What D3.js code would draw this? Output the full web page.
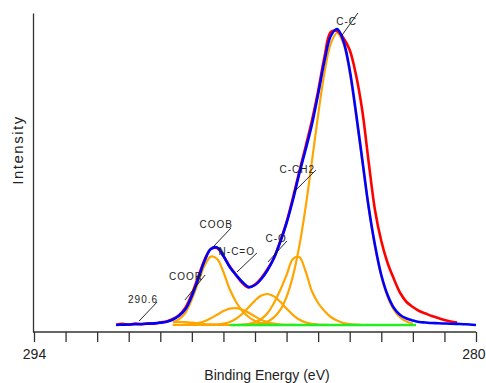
<!DOCTYPE html>
<html>
<head>
<meta charset="utf-8">
<script src="https://cdn.jsdelivr.net/npm/d3@7"></script>
<style>
body { margin:0; background:#fff; }
svg { font-family: "Liberation Sans", Arial, sans-serif; }
</style>
</head>
<body>
<svg id="chart"></svg>
<script>
// energy grid of the measured spectrum and the fit envelope (eV)
var fitEnergy = [291.4, 291.2, 291.0, 290.8, 290.6, 290.4, 290.2, 290.0, 289.8, 289.6, 289.4, 289.2, 289.0, 288.8, 288.6, 288.4, 288.2, 288.0, 287.8, 287.6, 287.4, 287.2, 287.0, 286.8, 286.6, 286.4, 286.2, 286.0, 285.8, 285.6, 285.4, 285.2, 285.0, 284.8, 284.6, 284.4, 284.2, 284.0, 283.8, 283.6, 283.4, 283.2, 283.0, 282.8, 282.6, 282.4, 282.2, 282.0, 281.8, 281.6, 281.4, 281.2, 281.0, 280.8, 280.6, 280.4, 280.2, 280.0];

// measured spectrum (red), stops at 280.6
var measured = [0.3, 1.2, 0.3, 1.4, 0.6, 1.8, 1.3, 2.6, 3.6, 6, 10, 17.5, 31, 48, 65, 76, 77, 69, 58.5, 50, 42, 37.5, 40.5, 47, 56, 67, 84, 103, 127, 153, 178, 204, 234, 268, 293, 294, 287, 275, 250, 214, 163, 115, 84, 62, 46, 32, 23, 18, 14, 11.5, 9, 7, 5, 3.5, 2.5];

// fitted envelope (blue)
var envelope = [0, 0.3, 0.5, 0.8, 1.0, 1.3, 1.6, 2.2, 3.2, 5.5, 9.5, 16, 29, 46, 64, 76, 77.5, 69, 58, 50, 43, 38, 40, 46, 55, 67, 83, 102, 125, 151, 175, 200, 231, 264, 289, 296, 284, 255, 212, 165, 118, 80, 50, 30, 17, 10, 6.5, 4.5, 3, 2.5, 2, 1.8, 1.5, 1.3, 1.1, 0.8, 0.5, 0];

// energy grid of the fitted components
var compEnergy = [289.6, 289.4, 289.2, 289.0, 288.8, 288.6, 288.4, 288.2, 288.0, 287.8, 287.6, 287.4, 287.2, 287.0, 286.8, 286.6, 286.4, 286.2, 286.0, 285.8, 285.6, 285.4, 285.2, 285.0, 284.8, 284.6, 284.4, 284.2, 284.0, 283.8, 283.6, 283.4, 283.2, 283.0, 282.8, 282.6, 282.4, 282.2, 282.0];

// component peaks (orange)
var peakShake = [2.8, 3.0, 2.8, 2.3, 1.7, 1.0, 0.6, 0.3, 0.1, 0, 0, 0, 0, 0, 0, 0, 0, 0, 0, 0, 0, 0, 0, 0, 0, 0, 0, 0, 0, 0, 0, 0, 0, 0, 0, 0, 0, 0, 0];
var peakCOOR = [2.5, 6, 12.5, 25.7, 42.7, 59.2, 68.4, 66, 53, 35.7, 23, 14, 8, 4, 2, 1, 0.5, 0.2, 0, 0, 0, 0, 0, 0, 0, 0, 0, 0, 0, 0, 0, 0, 0, 0, 0, 0, 0, 0, 0];
var peakNCO = [0, 0.1, 0.3, 0.8, 1.9, 3.8, 6.7, 10.3, 13.9, 16.4, 16.9, 15.3, 12.2, 8.5, 5.2, 2.7, 1.3, 0.5, 0.2, 0.1, 0, 0, 0, 0, 0, 0, 0, 0, 0, 0, 0, 0, 0, 0, 0, 0, 0, 0, 0];
var peakCO = [0, 0, 0, 0, 0, 0, 0.2, 0.5, 1.3, 3.1, 6.3, 11.3, 17.8, 24.4, 29.4, 31.0, 28.6, 23.2, 16.4, 10.2, 5.5, 2.6, 1.1, 0.4, 0.1, 0, 0, 0, 0, 0, 0, 0, 0, 0, 0, 0, 0, 0, 0];
var peakCCH2 = [0, 0, 0, 0, 0, 0, 0, 0, 0, 0, 0, 0.4, 1.2, 2.8, 6, 12, 22, 35, 50, 66, 68, 54, 34, 22, 14, 8, 4.5, 2, 0.8, 0.3, 0, 0, 0, 0, 0, 0, 0, 0, 0];
var peakCC = [0, 0, 0, 0, 0, 0, 0, 0, 0, 0, 0, 0, 0, 0.6, 1.5, 3.5, 7.6, 15.1, 28.2, 48.8, 78.4, 117.2, 162.8, 210.2, 252.3, 281.5, 292, 281.5, 252.3, 210.2, 162.8, 117.2, 78.4, 48.8, 28.2, 15.1, 7.6, 3.5, 1.5];

// background line (green)
var baseEnergy = [287.8, 281.9];
var baseValues = [0, 0];

// axis ticks
var xTicks = [294, 293, 292, 291, 290, 289, 288, 287, 286, 285, 284, 283, 282, 281, 280];
var xTickLabels = [294, 280];

// peak annotations: text, text anchor (E, I), leader line from (E, I) to (E, I)
var labelText = ["C-C", "C-CH2", "C-O", "N-C=O", "COOB", "COOR", "290.6"];
var labelE = [283.77, 285.10, 285.99, 287.0, 287.70, 288.65, 290.07];
var labelI = [300, 152, 83, 70, 97, 45, 22];
var leaderE1 = [283.74, 285.07, 285.99, 286.94, 287.76, 288.58, 290.10];
var leaderI1 = [312, 155, 84, 72, 97, 50, 23];
var leaderE2 = [284.24, 285.80, 286.59, 287.57, 288.33, 289.22, 290.67];
var leaderI2 = [290, 132, 63, 53, 78, 25, 4];

var screen = {width:486, height:383};

var svg = d3.select("#chart")
    .attr("width", screen.width)
    .attr("height", screen.height);

var xScale = d3.scaleLinear()
    .domain([294, 280])
    .range([34, 476]);

var yScale = d3.scaleLinear()
    .domain([-7, 312])
    .range([332, 13]);

var line = d3.line()
    .x(function(d){ return xScale(d[0]); })
    .y(function(d){ return yScale(d[1]); })
    .curve(d3.curveCatmullRom.alpha(0.5));

var zip = function(xs, ys)
{
    return ys.map(function(v, i){ return [xs[i], v]; });
}

// axes
var xAxis = d3.axisBottom(xScale)
    .tickValues(xTicks)
    .tickSize(10)
    .tickSizeOuter(0)
    .tickPadding(7)
    .tickFormat(function(d){ return xTickLabels.indexOf(d) >= 0 ? d : ""; });

var gx = svg.append("g")
    .attr("transform", "translate(0,332)")
    .call(xAxis);
gx.select(".domain").attr("stroke", "#333").attr("stroke-width", 1.3)
    .attr("d", "M33,0H476");
gx.selectAll(".tick line").attr("stroke", "#333").attr("stroke-width", 1.3);
gx.selectAll(".tick text")
    .attr("fill", "#222")
    .attr("text-anchor", function(d){ return d == 280 ? "end" : "middle"; })
    .attr("dx", function(d){ return d == 280 ? 9 : 0; })
    .style("font-size", "14px")
    .style("font-family", "Liberation Sans, Arial, sans-serif");

var gy = svg.append("g")
    .attr("transform", "translate(33,0)")
    .call(d3.axisLeft(yScale).tickValues([]).tickSizeOuter(0));
gy.select(".domain").attr("stroke", "#333").attr("stroke-width", 1.3);

svg.append("text")
    .attr("x", 267)
    .attr("y", 380)
    .attr("text-anchor", "middle")
    .attr("fill", "#222")
    .style("font-size", "14px")
    .text("Binding Energy (eV)");

svg.append("text")
    .attr("transform", "translate(23,150) rotate(-90)")
    .attr("text-anchor", "middle")
    .attr("fill", "#222")
    .style("font-size", "15px")
    .style("letter-spacing", "1.5px")
    .text("Intensity");

// orange component peaks
var components = [peakShake, peakCOOR, peakNCO, peakCO, peakCCH2, peakCC];
svg.selectAll("path.comp")
    .data(components)
    .enter()
    .append("path")
    .attr("class", "comp")
    .attr("d", function(d){ return line(zip(compEnergy, d)); })
    .attr("fill", "none")
    .attr("stroke", "#ffa500")
    .attr("stroke-width", 2.2);

// green background
svg.append("path")
    .attr("d", line.curve(d3.curveLinear)(zip(baseEnergy, baseValues)))
    .attr("fill", "none")
    .attr("stroke", "#22ee22")
    .attr("stroke-width", 2.5);
line.curve(d3.curveCatmullRom.alpha(0.5));

// measured (red) and envelope (blue)
svg.append("path")
    .attr("d", line(zip(fitEnergy, measured)))
    .attr("fill", "none")
    .attr("stroke", "#ff0000")
    .attr("stroke-width", 2.6);

svg.append("path")
    .attr("d", line(zip(fitEnergy, envelope)))
    .attr("fill", "none")
    .attr("stroke", "#0000ff")
    .attr("stroke-width", 2.6);

// annotations
var labels = labelText.map(function(t, i){ return {text:t, i:i}; });

svg.selectAll("line.leader")
    .data(labels)
    .enter()
    .append("line")
    .attr("class", "leader")
    .attr("x1", function(d){ return xScale(leaderE1[d.i]); })
    .attr("y1", function(d){ return yScale(leaderI1[d.i]); })
    .attr("x2", function(d){ return xScale(leaderE2[d.i]); })
    .attr("y2", function(d){ return yScale(leaderI2[d.i]); })
    .attr("stroke", "#111")
    .attr("stroke-width", 0.9);

svg.selectAll("text.peak")
    .data(labels)
    .enter()
    .append("text")
    .attr("class", "peak")
    .attr("x", function(d){ return xScale(labelE[d.i]); })
    .attr("y", function(d){ return yScale(labelI[d.i]); })
    .attr("text-anchor", "end")
    .attr("fill", "#222")
    .style("font-size", "10px")
    .style("letter-spacing", "1px")
    .text(function(d){ return d.text; });
</script>
</body>
</html>
